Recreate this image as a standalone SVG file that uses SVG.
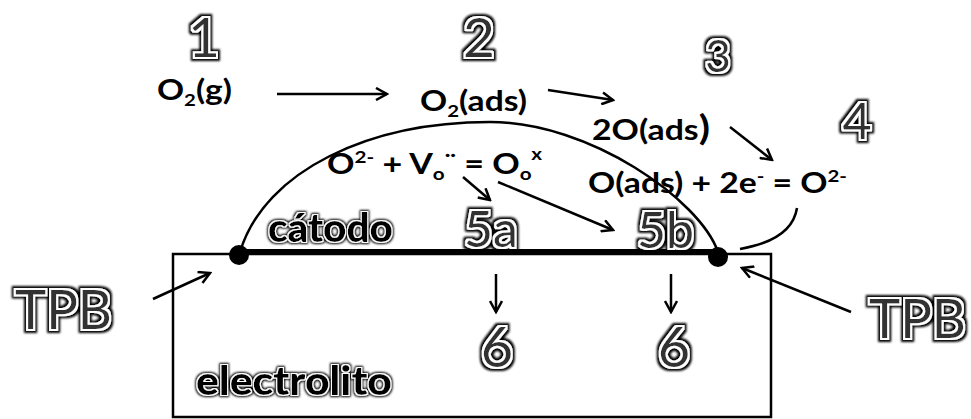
<svg xmlns="http://www.w3.org/2000/svg" width="971" height="419" viewBox="0 0 971 419">
<style>
.eq{font-family:Lato,"Open Sans","Liberation Sans",sans-serif;font-weight:bold;font-size:28px;fill:#000}
.s{font-size:17px}
.big{font-family:Lato,"Open Sans","Liberation Sans",sans-serif;font-weight:normal;fill:#333;filter:url(#outl)}
.lbl{font-family:Lato,"Open Sans","Liberation Sans",sans-serif;font-weight:900;font-size:40px;fill:#000;filter:url(#outl2)}
.ln{stroke:#000;stroke-width:2.5;fill:none}
</style>
<defs>
<marker id="ah" viewBox="0 0 14 14" refX="12" refY="7" markerWidth="14" markerHeight="14" markerUnits="userSpaceOnUse" orient="auto">
<path d="M1,1 L12,7 L1,13" fill="none" stroke="#000" stroke-width="2.5"/>
</marker>
<filter id="outl" x="-30%" y="-30%" width="160%" height="160%">
<feMorphology in="SourceAlpha" operator="dilate" radius="1.6" result="d1"/>
<feFlood flood-color="#fff"/>
<feComposite in2="d1" operator="in" result="w"/>
<feMorphology in="SourceAlpha" operator="dilate" radius="4" result="d2"/>
<feGaussianBlur in="d2" stdDeviation="0.8" result="d2b"/>
<feMerge><feMergeNode in="d2b"/><feMergeNode in="w"/><feMergeNode in="SourceGraphic"/></feMerge>
</filter>
<filter id="outl2" x="-20%" y="-30%" width="140%" height="160%">
<feMorphology in="SourceAlpha" operator="dilate" radius="0.8" result="d1"/>
<feFlood flood-color="#fff"/>
<feComposite in2="d1" operator="in" result="w"/>
<feMorphology in="SourceAlpha" operator="dilate" radius="2.4" result="d2"/>
<feGaussianBlur in="d2" stdDeviation="1" result="d2b"/>
<feMerge><feMergeNode in="d2b"/><feMergeNode in="w"/><feMergeNode in="SourceGraphic"/></feMerge>
</filter>
</defs>
<rect width="971" height="419" fill="#fff"/>

<g id="electrolyte">
<rect x="173" y="254" width="598" height="163" fill="none" stroke="#000" stroke-width="2.5"/>
<text class="lbl" x="196" y="395" textLength="196" lengthAdjust="spacingAndGlyphs">electrolito</text>
</g>
<g id="cathode">
<path d="M240,252 C265,170 370,122 490,122 C590,122 700,200 718,252" class="ln"/>
<line x1="238" y1="252" x2="718" y2="252" stroke="#000" stroke-width="6"/>
<text class="lbl" x="268" y="242" textLength="125" lengthAdjust="spacingAndGlyphs">cátodo</text>
</g>
<g id="tpb-left-dot"><circle cx="239" cy="255" r="10" fill="#000"/></g>
<g id="tpb-right-dot"><circle cx="718" cy="257" r="10" fill="#000"/></g>

<g id="step1">
<text class="big" x="204" y="57" font-size="55" text-anchor="middle">1</text>
<text class="eq" x="157" y="100" textLength="75" lengthAdjust="spacingAndGlyphs">O<tspan class="s" dy="6">2</tspan><tspan dy="-6">(g)</tspan></text>
</g>
<g id="step2">
<text class="big" x="479" y="57" font-size="55" text-anchor="middle">2</text>
<text class="eq" x="420" y="111" textLength="107" lengthAdjust="spacingAndGlyphs">O<tspan class="s" dy="6">2</tspan><tspan dy="-6">(ads)</tspan></text>
</g>
<g id="step3">
<text class="big" x="718" y="72" font-size="44" text-anchor="middle">3</text>
<text class="eq" x="592" y="140" textLength="118" lengthAdjust="spacingAndGlyphs">2O(ads<tspan font-size="34">)</tspan></text>
</g>
<g id="step4">
<text class="big" x="857" y="139" font-size="50" text-anchor="middle">4</text>
<text class="eq" x="588" y="193" textLength="259" lengthAdjust="spacingAndGlyphs">O(ads) + 2e<tspan class="s" dy="-11">-</tspan><tspan dy="11"> = O</tspan><tspan class="s" dy="-11">2-</tspan></text>
</g>
<g id="step5-eq">
<text class="eq" x="327" y="174" textLength="215" lengthAdjust="spacingAndGlyphs">O<tspan class="s" dy="-11">2-</tspan><tspan dy="11"> + V</tspan><tspan class="s" dy="6">o</tspan><tspan class="s" dy="-19">··</tspan><tspan dy="13"> = O</tspan><tspan class="s" dy="6">o</tspan><tspan class="s" dy="-20">x</tspan></text>
</g>
<g id="step5a"><text class="big" x="464" y="247" font-size="50">5a</text></g>
<g id="step5b"><text class="big" x="637" y="248" font-size="50">5b</text></g>
<g id="step6a"><text class="big" x="497" y="367" font-size="56" text-anchor="middle">6</text></g>
<g id="step6b"><text class="big" x="674" y="367" font-size="56" text-anchor="middle">6</text></g>
<g id="tpb-left"><text class="big" x="15" y="329" font-size="54" textLength="97" lengthAdjust="spacingAndGlyphs">TPB</text></g>
<g id="tpb-right"><text class="big" x="869" y="338" font-size="54" textLength="97" lengthAdjust="spacingAndGlyphs">TPB</text></g>

<g id="connectors" class="ln" marker-end="url(#ah)">
<line x1="277" y1="94" x2="387" y2="94"/>
<line x1="548" y1="90" x2="613" y2="100"/>
<line x1="730" y1="127" x2="772" y2="160"/>
<line x1="463" y1="177" x2="490" y2="200"/>
<line x1="498" y1="182" x2="613" y2="230"/>
<line x1="496" y1="274" x2="496" y2="312"/>
<line x1="671" y1="274" x2="671" y2="312"/>
<line x1="153" y1="299" x2="210" y2="273"/>
<line x1="851" y1="312" x2="742" y2="268"/>
<path d="M740,249 Q792,240 797,208" marker-end="none"/>
</g>
</svg>
